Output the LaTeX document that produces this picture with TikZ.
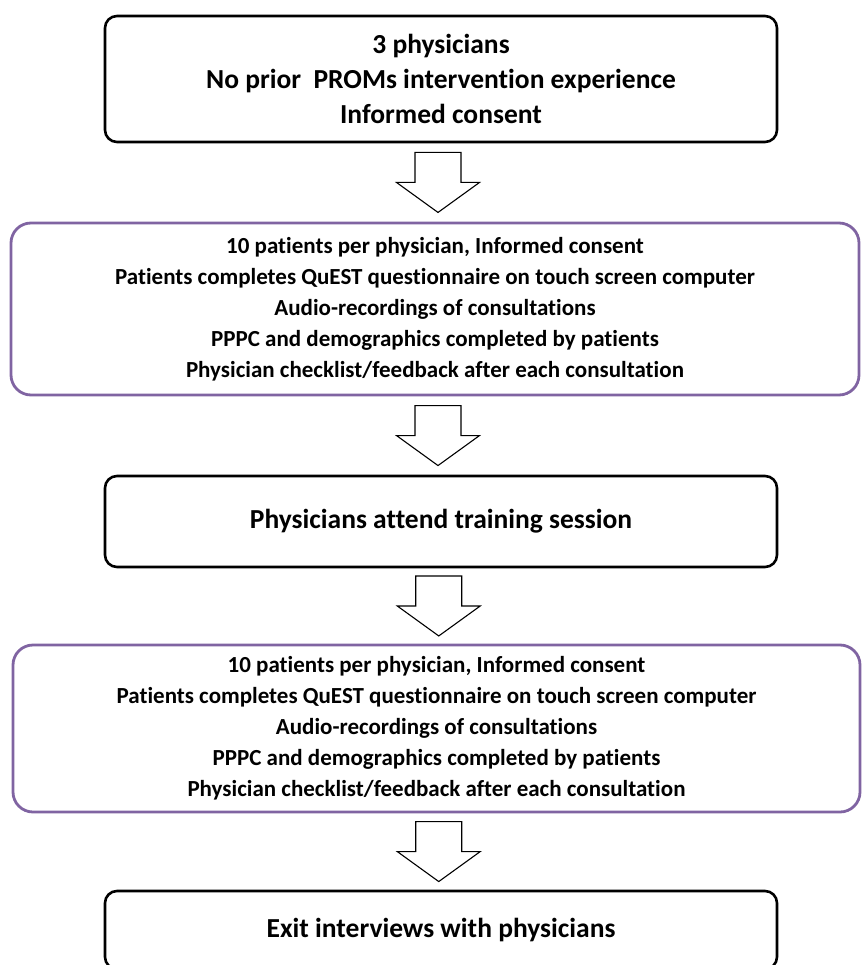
\documentclass[tikz,border=0pt]{standalone}
\usepackage{fontspec}
\setmainfont{Carlito}[Ligatures=CommonOff]
\usepackage{xcolor}
\usetikzlibrary{calc}
\definecolor{boxpurple}{RGB}{128,100,162}
\tikzset{
    stagebox/.style={draw=black,line width=2.6pt,rounded corners=12pt,fill=white,align=center,inner sep=0pt,
        font=\bfseries\fontsize{27.5}{35}\selectfont},
    cohortbox/.style={draw=boxpurple,line width=2.8pt,rounded corners=20pt,fill=white,align=center,inner sep=0pt,
        font=\bfseries\fontsize{23}{31}\selectfont},
    blockarrow/.style={draw=black,line width=1.1pt,fill=white,line join=miter}
}
% block arrow placed half way between two boxes
\newcommand{\blockarrow}[2]{%
    \draw[blockarrow] ($(#1.south)!0.5!(#2.north)$) ++(-23,-30) -- ++(46,0) -- ++(0,30) -- ++(18.5,0)
        -- ++(-41.5,30) -- ++(-41.5,-30) -- ++(18.5,0) -- cycle;}

\begin{document}
\begin{tikzpicture}[x=1pt,y=-1pt,line cap=round,line join=round]
    \useasboundingbox (0,0) rectangle (861,965);
    \node[stagebox,minimum width=672pt,minimum height=126pt] (b1) at (441,79)
        {3 physicians\\ No prior\ \ PROMs intervention experience\\ Informed consent};
    \node[cohortbox,minimum width=848pt,minimum height=172pt] (b2) at (435,309)
        {10 patients per physician, Informed consent\\
         Patients completes QuEST questionnaire on touch screen computer\\
         Audio-recordings of consultations\\
         PPPC and demographics completed by patients\\
         Physician checklist/feedback after each consultation};
    \node[stagebox,minimum width=672pt,minimum height=91pt] (b3) at (441,521.5)
        {Physicians attend training session};
    \node[cohortbox,minimum width=847pt,minimum height=167pt] (b4) at (436.5,728.5)
        {10 patients per physician, Informed consent\\
         Patients completes QuEST questionnaire on touch screen computer\\
         Audio-recordings of consultations\\
         PPPC and demographics completed by patients\\
         Physician checklist/feedback after each consultation};
    \node[stagebox,minimum width=672pt,minimum height=78pt] (b5) at (441,930)
        {Exit interviews with physicians};
    % connectors
    \blockarrow{b1}{b2}
    \blockarrow{b2}{b3}
    \blockarrow{b3}{b4}
    \blockarrow{b4}{b5}
\end{tikzpicture}
\end{document}
